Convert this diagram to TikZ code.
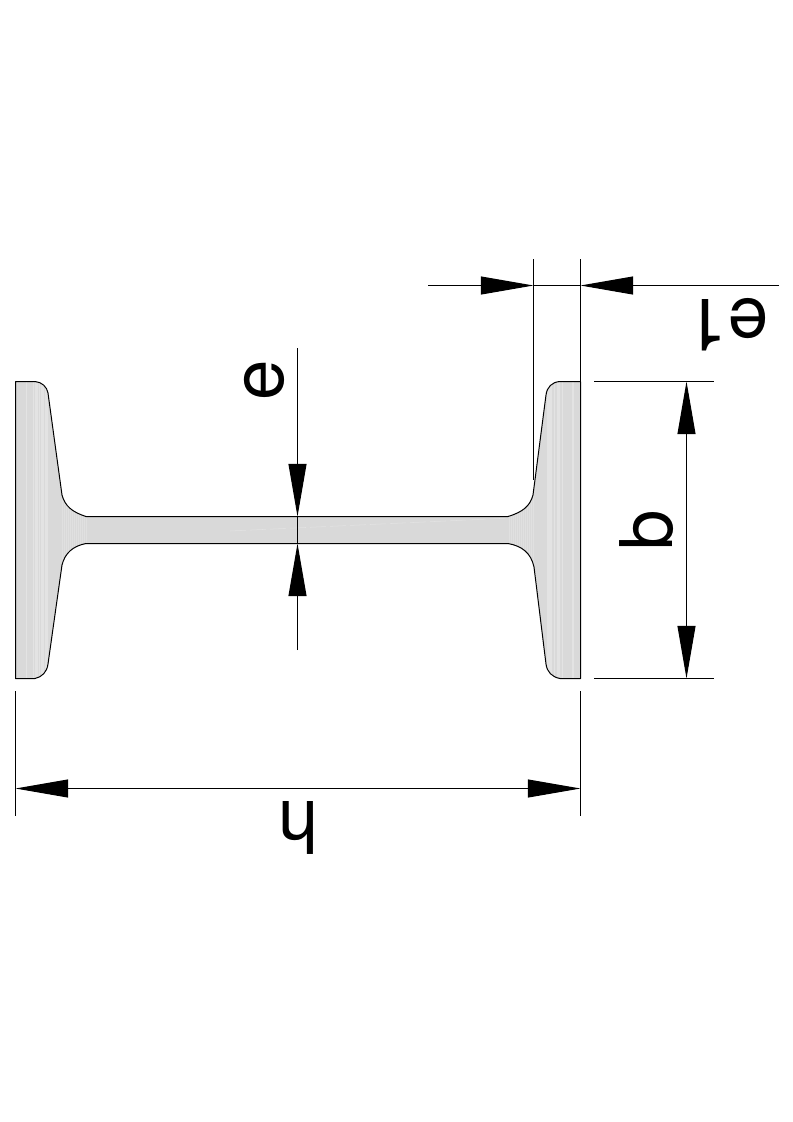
\documentclass[tikz,border=0pt]{standalone}
\usepackage{fontspec}
\setmainfont{TeX Gyre Heros}
\usetikzlibrary{arrows.meta}
\definecolor{steelgrey}{HTML}{D9D9D9}
\definecolor{streak}{HTML}{E3E3E3}
\definecolor{hatch}{HTML}{E0E0E0}
\tikzset{
  outline/.style={draw=black,line width=0.75pt,line join=round},
  thin line/.style={draw=black,line width=0.75pt},
  dimline/.style={thin line,{Triangle[length=39.5pt,width=13.5pt]}-{Triangle[length=39.5pt,width=13.5pt]}},
  endhead/.style={thin line,-{Triangle[length=39.5pt,width=13.5pt]}},
  dimtext/.style={inner sep=0pt,font=\fontsize{54.5}{54.5}\selectfont}
}
\begin{document}
\begin{tikzpicture}[x=0.75pt,y=-0.75pt]
\useasboundingbox (0,0) rectangle (793,1122);
\fill[white] (0,0) rectangle (793,1122);
\def\beam{(15.5,381.5) -- (35,381.5) .. controls (42,382) and (47,387) .. (48,393)
  -- (62,495) .. controls (65,506) and (72,512) .. (86,516.5)
  -- (508,516.5) .. controls (523,512) and (530,506) .. (533,495)
  -- (546,395) .. controls (547,387) and (552,382) .. (560,381.5)
  -- (580.5,381.5) -- (580.5,678.5) -- (560,678.5)
  .. controls (552,677) and (547,672) .. (546,664)
  -- (534,567) .. controls (531,553) and (522,546) .. (508,543.5)
  -- (86,543.5) .. controls (73,546) and (65,553) .. (62,565)
  -- (48,664) .. controls (47,672) and (42,677) .. (35,678.5)
  -- (15.5,678.5) -- cycle}
\fill[steelgrey] \beam;
\begin{scope}
  \clip \beam;
  \foreach \x/\w in {26/1,33/1,35/3,39/1,41/3,45/1.5,47/1,
                     547/5,554/1,557/3,562/1,572/1.5}
    \fill[streak] (\x,381) rectangle ++(\w,298);
  \foreach \x in {62,64,...,86,509,511,...,533}
    \fill[hatch] (\x,470) rectangle ++(1,120);
  \draw[streak,line width=0.4pt,dash pattern=on 12pt off 3pt] (230,531) -- (510,518);
\end{scope}
\draw[outline] \beam;
% named points
\coordinate (e1top) at (533.5,259);
\coordinate (e1low) at (533.5,480);
\coordinate (rtop) at (580.5,259);
\coordinate (rflange) at (580.5,381.5);
\coordinate (e1a) at (428,285.5);
\coordinate (e1b) at (533.5,285.5);
\coordinate (e1c) at (580.5,285.5);
\coordinate (e1d) at (779,285.5);
\coordinate (bta) at (594,381.5);
\coordinate (btb) at (714,381.5);
\coordinate (bba) at (594,678.5);
\coordinate (bbb) at (714,678.5);
\coordinate (bt) at (686.5,381.5);
\coordinate (bb) at (686.5,678.5);
\coordinate (hla) at (15.5,691);
\coordinate (hlb) at (15.5,816);
\coordinate (hra) at (580.5,691);
\coordinate (hrb) at (580.5,816);
\coordinate (hl) at (15.5,788.5);
\coordinate (hr) at (580.5,788.5);
\coordinate (ea) at (297.5,348);
\coordinate (eb) at (297.5,516.5);
\coordinate (ec) at (297.5,543.5);
\coordinate (ed) at (297.5,650);
\draw[thin line] (e1top) -- (e1low);
\draw[thin line] (rtop) -- (rflange);
\draw[endhead] (e1a) -- (e1b);
\draw[endhead] (e1d) -- (e1c);
\draw[thin line] (e1b) -- (e1c);
\draw[thin line] (bta) -- (btb);
\draw[thin line] (bba) -- (bbb);
\draw[dimline] (bt) -- (bb);
\draw[thin line] (hla) -- (hlb);
\draw[thin line] (hra) -- (hrb);
\draw[dimline] (hl) -- (hr);
\draw[endhead] (ea) -- (eb);
\draw[endhead] (ed) -- (ec);
\draw[thin line] (eb) -- (ec);
\node[dimtext,rotate=180] (labelh) at (298,828) {h};
\node[dimtext,rotate=90] (labelb) at (646.5,530) {b};
\node[dimtext,rotate=90] (labele) at (264.5,380) {e};
\node[dimtext,rotate=180] (labelea) at (727.5,325) {e\kern 0.5pt 1};
\end{tikzpicture}
\end{document}
